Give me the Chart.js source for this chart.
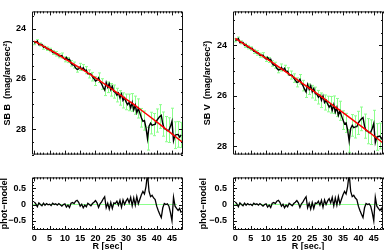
<!DOCTYPE html>
<html>
<head>
<meta charset="UTF-8">
<title>SB profiles B / V</title>
<script src="https://cdn.jsdelivr.net/npm/chart.js"></script>
<style>
    body { margin: 0; background: #fff; }
    #wrap { position: relative; width: 384px; height: 250px; overflow: hidden; }
    canvas { position: absolute; }
</style>
</head>
<body>
<div id="wrap">
    <canvas id="sbB" width="192" height="166" style="left:0;top:0"></canvas>
    <canvas id="resB" width="192" height="86" style="left:0;top:166px"></canvas>
    <canvas id="sbV" width="192" height="166" style="left:192px;top:0"></canvas>
    <canvas id="resV" width="192" height="86" style="left:192px;top:166px"></canvas>
</div>
<script>
// radius of each isophote (sec)
const radius = [0, 0.5, 1, 1.5, 2, 2.5, 3, 3.5, 4, 4.5, 5, 5.5, 6, 6.5, 7, 7.5, 8, 8.5, 9, 9.5,
    10, 10.5, 11, 11.5, 12, 12.5, 13, 13.5, 14, 14.5, 15, 15.5, 16, 16.5, 17, 17.5, 18, 18.5, 19, 19.5,
    20, 20.5, 21, 21.5, 22, 22.5, 23, 23.5, 24, 24.5, 25, 25.5, 26, 26.5, 27, 27.5, 28, 28.5, 29, 29.5,
    30, 30.5, 31, 31.5, 32, 32.5, 33, 33.5, 34, 34.5, 35, 35.5, 36, 36.5, 37, 37.5, 38, 38.5, 39, 39.5,
    40, 40.5, 41, 41.5, 42, 42.5, 43, 43.5, 44, 44.5, 45, 45.5, 46, 46.5, 47, 47.5, 48];

// photometry B (mag/arcsec2)
const photB = [24.58, 24.55, 24.50, 24.65, 24.63, 24.63, 24.74, 24.72, 24.80, 24.79, 24.85, 24.84, 24.95, 24.94, 25.00, 25.00, 25.08, 25.08, 25.07, 25.16,
    25.22, 25.15, 25.25, 25.22, 25.38, 25.44, 25.45, 25.56, 25.62, 25.60, 25.52, 25.62, 25.55, 25.66, 25.65, 25.80, 25.80, 25.80, 25.91, 25.99,
    26.08, 26.05, 25.95, 26.10, 26.20, 26.33, 26.44, 26.14, 26.33, 26.19, 26.43, 26.29, 26.50, 26.53, 26.64, 26.56, 26.75, 26.59, 26.85, 26.75,
    26.91, 27.02, 26.93, 27.15, 26.93, 27.22, 27.04, 27.34, 27.17, 27.35, 27.54, 27.68, 27.65, 27.93, 28.37, 27.87, 27.75, 27.84, 27.81, 27.80,
    27.65, 27.57, 27.49, 27.44, 27.79, 27.97, 27.99, 28.05, 28.03, 27.88, 27.68, 28.45, 28.23, 28.21, 28.20, 28.31, 28.22];

// photometry V (mag/arcsec2)
const photV = [23.80, 23.78, 23.73, 23.89, 23.88, 23.88, 24.00, 23.98, 24.07, 24.07, 24.13, 24.12, 24.24, 24.24, 24.30, 24.30, 24.39, 24.39, 24.39, 24.48,
    24.54, 24.48, 24.58, 24.55, 24.72, 24.78, 24.79, 24.91, 24.98, 24.96, 24.88, 24.98, 24.91, 25.04, 25.03, 25.18, 25.18, 25.19, 25.30, 25.38,
    25.47, 25.45, 25.35, 25.50, 25.60, 25.74, 25.85, 25.55, 25.74, 25.60, 25.84, 25.71, 25.92, 25.94, 26.06, 25.98, 26.18, 26.01, 26.27, 26.18,
    26.33, 26.45, 26.36, 26.58, 26.36, 26.65, 26.47, 26.78, 26.60, 26.79, 26.97, 27.12, 27.08, 27.36, 27.80, 27.30, 27.18, 27.27, 27.24, 27.23,
    27.08, 26.99, 26.92, 26.87, 27.21, 27.39, 27.41, 27.47, 27.45, 27.30, 27.10, 27.86, 27.64, 27.62, 27.60, 27.71, 27.63];

// 1-sigma errors
const errMag = [0.06, 0.07, 0.06, 0.08, 0.06, 0.07, 0.08, 0.07, 0.07, 0.08, 0.07, 0.09, 0.08, 0.08, 0.09, 0.10, 0.08, 0.09, 0.10, 0.09,
    0.10, 0.11, 0.10, 0.12, 0.11, 0.10, 0.12, 0.13, 0.11, 0.12, 0.14, 0.13, 0.12, 0.15, 0.14, 0.13, 0.16, 0.15, 0.17, 0.16,
    0.18, 0.17, 0.19, 0.18, 0.21, 0.20, 0.22, 0.24, 0.21, 0.23, 0.25, 0.22, 0.26, 0.24, 0.27, 0.25, 0.29, 0.27, 0.30, 0.28,
    0.31, 0.30, 0.33, 0.31, 0.35, 0.32, 0.36, 0.34, 0.38, 0.35, 0.37, 0.40, 0.38, 0.42, 0.45, 0.40, 0.43, 0.41, 0.44, 0.42,
    0.46, 0.44, 0.47, 0.45, 0.48, 0.46, 0.50, 0.47, 0.49, 0.48, 0.52, 0.50, 0.53, 0.49, 0.51, 0.54, 0.50];

// phot - model
const resid = [0.08, 0.02, -0.07, 0.05, 0.00, -0.04, 0.04, -0.02, 0.03, -0.01, 0.01, -0.03, 0.04, 0.00, 0.02, -0.02, 0.03, -0.01, -0.05, 0.00,
    0.02, -0.08, -0.02, -0.09, 0.04, 0.06, 0.03, 0.10, 0.13, 0.07, -0.05, 0.01, -0.10, -0.02, -0.07, 0.04, 0.00, -0.04, 0.03, 0.07,
    0.12, 0.05, -0.09, 0.02, 0.08, 0.17, 0.24, -0.10, 0.04, -0.14, 0.06, -0.12, 0.05, 0.03, 0.10, -0.02, 0.13, -0.08, 0.14, 0.00,
    0.11, 0.18, 0.05, 0.22, -0.04, 0.20, -0.02, 0.24, 0.02, 0.16, 0.30, 0.40, 0.32, 0.55, 0.95, 0.40, 0.24, 0.28, 0.20, 0.15,
    -0.05, -0.18, -0.30, -0.40, -0.10, 0.03, 0.00, 0.02, -0.05, -0.25, -0.50, 0.22, -0.05, -0.12, -0.18, -0.12, -0.25];

// fitted model
const modelR = [0, 2.5, 5, 7.5, 10, 12.5, 15, 17.5, 20, 22.5, 25, 27.5, 30, 32.5, 35, 37.5, 40, 42.5, 45, 47.5, 48.5];
const modelB = [24.50, 24.67, 24.84, 25.01, 25.20, 25.38, 25.57, 25.76, 25.96, 26.16, 26.37, 26.58, 26.80, 27.01, 27.24, 27.47, 27.70, 27.94, 28.18, 28.42, 28.52];
const modelV = [23.72, 23.92, 24.11, 24.32, 24.52, 24.72, 24.93, 25.14, 25.35, 25.57, 25.78, 26.00, 26.22, 26.45, 26.67, 26.90, 27.13, 27.36, 27.59, 27.83, 27.93];

const zeroX = [-0.5, 46.6];
const zeroY = [0, 0];

const xLabels = [0, 5, 10, 15, 20, 25, 30, 35, 40, 45];
const sbLabels = [24, 26, 28];
const resLabels = [-0.5, 0, 0.5];

const GREEN = '#8cff8c';
const FONT = {family: 'Liberation Sans', size: 9, weight: 'bold'};

function pts(xs, ys) {
    return xs.map((x, i) => ({x: x, y: ys[i]}));
}

function isMajor(v, step) {
    const q = v / step;
    return Math.abs(q - Math.round(q)) < 1e-6;
}

// box round the plot with ticks pointing inward on all sides
function frame(xMinor, xMajor, yMinor, yMajor) {
    return {
        id: 'frame',
        afterDraw(chart) {
            const {ctx, chartArea: a} = chart;
            const sx = chart.scales.x, sy = chart.scales.y;
            ctx.save();
            ctx.strokeStyle = '#111';
            ctx.lineWidth = 1;
            ctx.beginPath();
            ctx.rect(a.left + 0.5, a.top + 0.5, a.right - a.left - 1, a.bottom - a.top - 1);
            for (let k = Math.ceil(sx.min / xMinor); k * xMinor <= sx.max; k++) {
                const v = k * xMinor;
                const len = isMajor(v, xMajor) ? 4 : 2;
                const px = Math.round(sx.getPixelForValue(v)) + 0.5;
                ctx.moveTo(px, a.bottom); ctx.lineTo(px, a.bottom - len);
                ctx.moveTo(px, a.top); ctx.lineTo(px, a.top + len);
            }
            for (let k = Math.ceil(sy.min / yMinor); k * yMinor <= sy.max; k++) {
                const v = k * yMinor;
                const len = isMajor(v, yMajor) ? 4 : 2;
                const py = Math.round(sy.getPixelForValue(v)) + 0.5;
                ctx.moveTo(a.left, py); ctx.lineTo(a.left + len, py);
                ctx.moveTo(a.right, py); ctx.lineTo(a.right - len, py);
            }
            ctx.stroke();
            ctx.restore();
        }
    };
}

// green error bars, one every `every` points so they stay apart like the original
function errorBars(xs, ys, es, every) {
    return {
        id: 'errbars',
        beforeDatasetsDraw(chart) {
            const {ctx, chartArea: a} = chart;
            const sx = chart.scales.x, sy = chart.scales.y;
            ctx.save();
            ctx.beginPath();
            ctx.rect(a.left, a.top, a.right - a.left, a.bottom - a.top);
            ctx.clip();
            ctx.strokeStyle = GREEN;
            ctx.lineWidth = 1;
            ctx.beginPath();
            xs.forEach((r, i) => {
                if (i % every) return;
                const px = Math.round(sx.getPixelForValue(r)) + 0.5;
                const lo = sy.getPixelForValue(ys[i] - es[i]);
                const hi = sy.getPixelForValue(ys[i] + es[i]);
                ctx.moveTo(px, lo); ctx.lineTo(px, hi);
                ctx.moveTo(px - 1.5, lo); ctx.lineTo(px + 1.5, lo);
                ctx.moveTo(px - 1.5, hi); ctx.lineTo(px + 1.5, hi);
            });
            ctx.stroke();
            ctx.restore();
        }
    };
}

function sbChart(id, phot, model, yMin, yMax, xMax, yw, title, titlePad) {
    return new Chart(document.getElementById(id), {
        type: 'line',
        data: {
            datasets: [
                {data: pts(modelR, model), borderColor: '#ff0000', borderWidth: 1.5, pointRadius: 0, tension: 0},
                {data: pts(radius, phot), borderColor: '#000000', borderWidth: 1.4, pointRadius: 0, tension: 0}
            ]
        },
        options: {
            responsive: false,
            animation: false,
            events: [],
            layout: {padding: {left: 0, right: 192 - yw - (xMax === 48 ? 150 : 151), top: 0, bottom: 6}},
            plugins: {legend: {display: false}, tooltip: {enabled: false}},
            scales: {
                x: {type: 'linear', min: -0.75, max: xMax, display: false},
                y: {
                    type: 'linear', reverse: true, min: yMin, max: yMax,
                    afterFit: s => { s.width = yw; },
                    afterBuildTicks: s => { s.ticks = sbLabels.map(v => ({value: v})); },
                    grid: {display: false, drawTicks: false},
                    border: {display: false},
                    ticks: {padding: 6, color: '#000', font: FONT},
                    title: {display: true, text: title, color: '#000', font: FONT, padding: {top: titlePad, bottom: 0}}
                }
            }
        },
        plugins: [errorBars(radius, phot, errMag, 2), frame(1, 5, 0.5, 2)]
    });
}

function resChart(id, xMax, yw, xTitle, titlePad) {
    return new Chart(document.getElementById(id), {
        type: 'line',
        data: {
            datasets: [
                {data: pts(radius, resid), borderColor: '#000000', borderWidth: 1.3, pointRadius: 0, tension: 0},
                {data: pts(zeroX, zeroY), borderColor: GREEN, borderWidth: 1.2, pointRadius: 0, tension: 0}
            ]
        },
        options: {
            responsive: false,
            animation: false,
            events: [],
            layout: {padding: {left: 0, right: 192 - yw - (xMax === 48 ? 150 : 151), top: 4, bottom: 0}},
            plugins: {legend: {display: false}, tooltip: {enabled: false}},
            scales: {
                x: {
                    type: 'linear', min: -0.75, max: xMax,
                    afterFit: s => { s.height = 22; },
                    afterBuildTicks: s => { s.ticks = xLabels.map(v => ({value: v})); },
                    grid: {display: false, drawTicks: false},
                    border: {display: false},
                    ticks: {padding: 3, color: '#000', font: FONT, maxRotation: 0, autoSkip: false},
                    title: {display: true, text: xTitle, color: '#000', font: FONT, padding: {top: 0, bottom: 0}}
                },
                y: {
                    type: 'linear', min: -0.78, max: 0.83,
                    afterFit: s => { s.width = yw; },
                    afterBuildTicks: s => { s.ticks = resLabels.map(v => ({value: v})); },
                    grid: {display: false, drawTicks: false},
                    border: {display: false},
                    ticks: {padding: 6, color: '#000', font: FONT,
                        callback: v => (v < 0 ? '\u2212' + Math.abs(v) : String(v))},
                    title: {display: true, text: 'phot\u2212model', color: '#000', font: FONT, padding: {top: titlePad, bottom: 0}}
                }
            }
        },
        plugins: [frame(1, 5, 0.1, 0.5)]
    });
}

sbChart('sbB', photB, modelB, 23.32, 29.0, 48.6, 32, 'SB B  (mag/arcsec\u00b2)', 2);
resChart('resB', 48.6, 32, 'R [sec]', -1);
sbChart('sbV', photV, modelV, 22.65, 28.34, 48, 41, 'SB V  (mag/arcsec\u00b2)', 10);
resChart('resV', 48, 41, 'R [sec.]', 6);
</script>
</body>
</html>
